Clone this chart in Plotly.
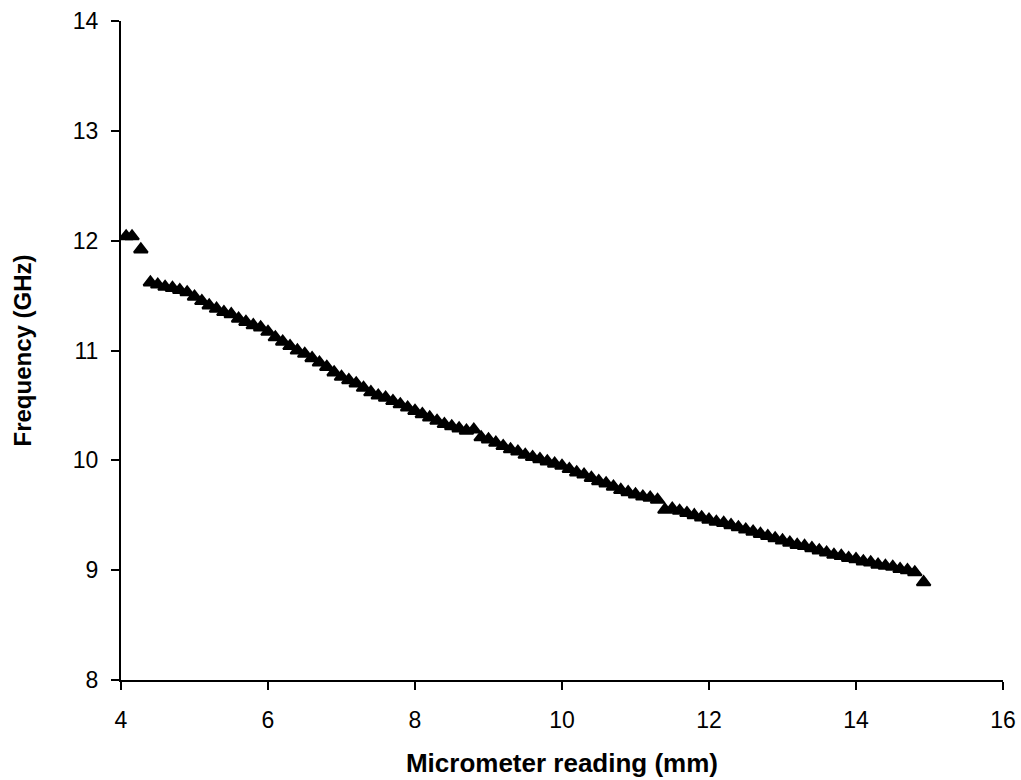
import plotly.graph_objects as go

micrometer_mm = [
    4.07, 4.15, 4.27,
    4.4, 4.5, 4.6, 4.7, 4.8, 4.9, 5.0, 5.1, 5.2, 5.3, 5.4, 5.5, 5.6, 5.7, 5.8, 5.9,
    6.0, 6.1, 6.2, 6.3, 6.4, 6.5, 6.6, 6.7, 6.8, 6.9,
    7.0, 7.1, 7.2, 7.3, 7.4, 7.5, 7.6, 7.7, 7.8, 7.9,
    8.0, 8.1, 8.2, 8.3, 8.4, 8.5, 8.6, 8.7, 8.8, 8.9,
    9.0, 9.1, 9.2, 9.3, 9.4, 9.5, 9.6, 9.7, 9.8, 9.9,
    10.0, 10.1, 10.2, 10.3, 10.4, 10.5, 10.6, 10.7, 10.8, 10.9,
    11.0, 11.1, 11.2, 11.3, 11.4, 11.5, 11.6, 11.7, 11.8, 11.9,
    12.0, 12.1, 12.2, 12.3, 12.4, 12.5, 12.6, 12.7, 12.8, 12.9,
    13.0, 13.1, 13.2, 13.3, 13.4, 13.5, 13.6, 13.7, 13.8, 13.9,
    14.0, 14.1, 14.2, 14.3, 14.4, 14.5, 14.6, 14.7, 14.8, 14.92,
]

frequency_ghz = [
    12.04, 12.04, 11.92,
    11.62, 11.60, 11.58, 11.57, 11.55, 11.53, 11.49, 11.45, 11.41, 11.38, 11.35, 11.33, 11.29, 11.26, 11.23, 11.21,
    11.17, 11.12, 11.08, 11.04, 11.00, 10.97, 10.93, 10.89, 10.85, 10.80,
    10.76, 10.73, 10.70, 10.66, 10.62, 10.59, 10.57, 10.54, 10.51, 10.48,
    10.45, 10.42, 10.39, 10.36, 10.33, 10.31, 10.29, 10.27, 10.28, 10.21,
    10.19, 10.16, 10.13, 10.10, 10.08, 10.05, 10.03, 10.01, 9.99, 9.97,
    9.95, 9.92, 9.89, 9.87, 9.84, 9.81, 9.79, 9.76, 9.73, 9.71,
    9.69, 9.67, 9.66, 9.64, 9.55, 9.56, 9.54, 9.52, 9.50, 9.48,
    9.46, 9.44, 9.43, 9.41, 9.39, 9.37, 9.35, 9.33, 9.31, 9.29,
    9.27, 9.25, 9.23, 9.22, 9.20, 9.18, 9.16, 9.14, 9.13, 9.11,
    9.10, 9.08, 9.07, 9.05, 9.04, 9.03, 9.01, 9.00, 8.98, 8.89,
]

x_ticks = [4, 6, 8, 10, 12, 14, 16]
y_ticks = [8, 9, 10, 11, 12, 13, 14]

FONT = "Arial, Liberation Sans, sans-serif"

fig = go.Figure()
fig.add_trace(go.Scatter(
    x=micrometer_mm, y=frequency_ghz, mode="markers",
    marker=dict(symbol="triangle-up", size=12, color="black",
                line=dict(color="black", width=2)),
    showlegend=False,
))

axis_common = dict(
    showgrid=False, zeroline=False, showline=True, linecolor="black", linewidth=2,
    ticks="outside", ticklen=8, tickwidth=2, tickcolor="black",
    tickfont=dict(family=FONT, size=23, color="black"),
    automargin=False,
)

fig.update_xaxes(
    range=[4, 16], tickvals=x_ticks, ticktext=[str(v) for v in x_ticks],
    ticklabelstandoff=10,
    title=dict(text="<b>Micrometer reading (mm)</b>", font=dict(family=FONT, size=26, color="black"), standoff=22),
    **axis_common,
)
fig.update_yaxes(
    range=[8, 14], tickvals=y_ticks, ticktext=[str(v) for v in y_ticks],
    ticklabelstandoff=8,
    title=dict(text="<b>Frequency (GHz)</b>", font=dict(family=FONT, size=24, color="black"), standoff=34),
    **axis_common,
)

fig.update_layout(
    width=1021, height=780,
    margin=dict(l=121, r=18, t=21, b=100),
    plot_bgcolor="white", paper_bgcolor="white",
    font=dict(family=FONT, color="black"),
)

fig.write_html("out.html")
